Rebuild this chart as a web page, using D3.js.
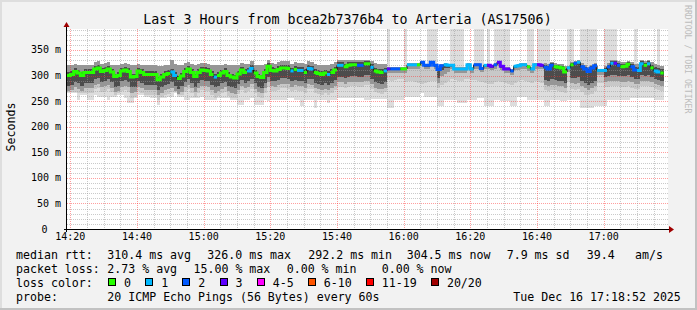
<!DOCTYPE html>
<html>
<head>
<meta charset="utf-8">
<script src="https://cdn.jsdelivr.net/npm/d3@7"></script>
<style>
  html, body { margin: 0; padding: 0; background: #f2f2f2; }
  svg { display: block; }
  text { font-family: "DejaVu Sans Mono", monospace; fill: #000; }
</style>
</head>
<body>
<div id="chart"></div>
<script>
// one sample per minute, starting 14:19 (UTC used as wall clock)
const startTime = Date.UTC(2025, 11, 16, 14, 19);

const medianRtt = [
  300,302,308,305,300,306,306,306,313,315, 308,310,313,307,298,300,309,311,308,297,
  298,309,306,302,302,302,302,292,297,302, 304,307,300,294,299,308,313,306,298,306,
  311,310,309,302,297,300,305,308,300,297, 295,303,311,306,309,314,305,298,296,306,
  318,310,309,312,315,315,314,309,312,310, 310,306,314,313,306,304,302,305,302,306,
  311,320,320,317,320,321,321,320,320,323, 323,316,309,307,306,309,313,313,313,313,
  313,313,321,321,321,321,326,320,320,326, 320,312,319,321,320,320,313,313,313,313,
  321,313,321,321,314,320,320,318,321,326, 318,313,313,309,318,319,321,321,317,313,
  321,321,320,316,313,320,317,316,315,307, 315,321,324,326,317,313,308,315,319,310,
  310,310,317,324,324,320,317,318,322,317, 311,310,323,320,323,315,309,307,305
];

// lost pings out of 20
const lossCount = [
  0,0,0,0,0,0,0,0,0,0, 0,0,0,0,0,0,0,0,0,0, 0,0,0,0,0,0,0,0,0,0,
  0,1,1,0,0,0,0,0,0,0, 0,0,0,0,1,0,0,0,0,0, 0,0,0,0,1,1,0,0,0,0,
  0,0,0,0,0,0,0,1,0,1, 1,0,1,1,0,0,0,0,1,0, 0,1,1,0,0,0,0,2,2,0,
  0,1,0,0,0,1,3,2,2,2, 0,0,1,1,1,0,2,2,2,2, 2,2,2,1,1,1,1,1,1,1,
  1,1,2,2,2,1,3,3,2,3, 3,3,3,2,1,1,1,1,0,1, 1,3,3,2,2,2,0,0,0,0,
  1,0,2,1,2,2,2,2,2,1, 1,1,2,1,3,2,0,0,0,2, 2,1,1,0,1,0,1,1,0
];

// smoke: lowest ping, lower edges of the lighter / mid bands, dark core, highest ping
const pingMin = [
  265,265,265,253,262,262,253,253,262,259, 259,259,253,259,259,262,262,256,246,246,
  256,262,262,259,259,256,256,243,256,256, 259,259,266,259,259,253,253,256,256,256,
  259,253,253,253,253,257,257,257,257,253, 253,243,243,253,253,256,243,243,243,253,
  250,253,253,253,253,253,256,256,253,253, 240,253,253,253,237,253,253,253,246,253,
  253,256,256,256,256,256,256,256,256,253, 253,255,255,255,255,255,237,237,253,253,
  253,259,259,259,259,259,266,259,259,259, 259,240,240,253,253,253,253,246,246,246,
  253,253,253,256,256,240,240,240,253,253, 250,250,250,240,240,259,259,259,253,253,
  253,253,253,240,240,253,253,253,250,250, 253,253,253,253,237,237,237,237,240,240,
  240,240,253,253,253,253,253,253,253,256, 256,256,256,256,256,256,253,253,253
];
const pingQ1 = [
  268,268,268,265,265,266,266,266,273,275, 268,270,273,267,262,265,269,271,268,257,
  259,269,266,262,262,262,262,252,259,262, 264,267,268,262,262,268,273,266,259,266,
  271,270,269,262,257,260,265,268,260,257, 256,263,271,266,269,274,265,258,256,266,
  278,270,269,272,275,275,274,269,272,270, 270,266,274,273,266,264,262,265,262,266,
  271,278,278,275,278,279,279,278,278,281, 281,274,267,265,264,267,292,290,292,294,
  294,288,290,290,288,286,284,286,288,290, 290,275,282,285,290,294,292,290,290,294,
  294,292,292,290,288,286,284,284,288,290, 288,286,284,282,286,290,292,290,288,286,
  290,288,286,272,270,272,272,270,268,266, 288,274,272,274,268,262,262,264,270,285,
  285,278,278,280,280,280,278,278,280,276, 274,274,280,280,280,278,274,272,270
];
const pingQ2 = [
  269,271,277,274,269,275,275,275,282,284, 277,279,282,276,267,269,278,280,277,266,
  267,278,275,271,271,271,271,261,266,271, 273,276,269,263,268,277,282,275,267,275,
  280,279,278,271,266,269,274,277,269,266, 264,272,280,275,278,283,274,267,265,275,
  287,279,278,281,284,284,283,278,281,279, 279,275,283,282,275,273,271,274,271,275,
  280,287,287,284,287,288,288,287,287,290, 290,283,276,274,273,276,305,305,305,305,
  305,305,313,313,313,313,318,312,312,318, 312,285,300,304,306,312,305,305,305,305,
  313,305,313,313,306,312,312,310,313,318, 310,305,305,301,310,311,313,313,309,305,
  313,313,312,282,280,282,282,280,280,276, 307,285,284,286,280,276,272,276,280,302,
  302,288,290,290,290,290,288,288,290,288, 284,284,290,290,290,288,284,282,280
];
const coreLo = [
  280,282,288,285,280,286,286,286,293,295, 288,290,293,287,278,280,289,291,288,277,
  278,289,286,282,282,282,282,272,277,282, 284,287,280,274,279,288,293,286,278,286,
  291,290,289,282,277,280,285,288,280,277, 275,283,291,286,289,294,285,278,276,286,
  298,290,289,292,295,295,294,289,292,290, 290,286,294,293,286,284,282,285,282,286,
  291,298,298,295,298,299,299,298,298,301, 301,294,287,285,284,287,310,310,310,310,
  310,310,318,318,318,318,323,317,317,323, 317,296,310,314,315,317,310,310,310,310,
  318,310,318,318,311,317,317,315,318,323, 315,310,310,306,315,316,318,318,314,310,
  318,318,317,292,290,294,292,290,290,285, 312,296,296,298,290,286,282,286,290,307,
  307,298,300,302,302,300,300,300,302,298, 294,294,302,300,302,298,294,292,290
];
const coreHi = [
  306,308,314,311,306,312,312,312,319,321, 314,316,319,313,304,306,315,317,314,303,
  304,315,312,308,308,308,308,298,303,308, 310,313,306,300,305,314,319,312,304,312,
  317,316,315,308,303,306,311,314,306,303, 301,309,317,312,315,320,311,304,302,312,
  324,316,315,318,321,321,320,315,318,316, 316,312,320,319,312,310,308,311,308,312,
  317,326,326,323,326,327,327,326,326,329, 329,322,315,313,312,315,314,314,314,314,
  314,314,322,322,322,322,327,321,321,327, 321,315,320,322,321,321,314,314,314,314,
  322,314,322,322,315,321,321,319,322,327, 319,314,314,310,319,320,322,322,318,314,
  322,322,321,320,318,324,321,320,319,313, 316,324,327,329,321,317,312,318,322,311,
  311,314,321,328,328,325,322,322,326,322, 317,316,328,325,328,321,316,314,312
];
const pingMax = [
  320,320,322,320,320,320,320,320,327,329, 322,324,327,321,320,320,323,325,322,320,
  320,323,320,320,320,320,320,318,318,320, 320,330,322,320,320,324,327,322,320,322,
  325,324,323,320,320,320,320,322,320,320, 320,320,325,322,323,328,320,320,320,322,
  330,325,323,326,329,329,328,323,326,324, 324,322,328,327,322,320,320,320,320,322,
  326,330,330,330,330,330,330,330,330,330, 330,328,325,322,322,323,316,316,316,316,
  316,316,324,324,324,324,329,323,323,329, 323,318,322,324,323,323,316,316,316,316,
  324,316,324,324,317,323,323,321,324,329, 321,316,316,312,321,322,324,324,320,316,
  324,324,323,324,322,326,324,323,322,318, 318,326,328,330,324,320,316,320,324,313,
  313,318,324,330,330,328,326,326,328,326, 322,322,330,328,330,326,322,320,318
];
// minutes where the slowest ping was above the top of the graph
const offScaleMinutes = [
  96, 101, 108, 109, 110, 115, 116, 117, 118, 122, 123, 124, 126,
  128, 129, 130, 131, 132, 138, 139, 141, 142, 143, 144, 150, 151,
  154, 155, 156, 157, 158, 161, 162, 163, 164, 170, 177
];

const yMax = 391;
const yTicks = [0, 50, 100, 150, 200, 250, 300, 350];

const lossLabels = ["0", "1", "2", "3", "4-5", "6-10", "11-19", "20/20"];
const lossColors = ["#26ff00", "#00b8ff", "#0059ff", "#5e00ff", "#ff00ff", "#ff5500", "#ff0000", "#a00000"];

const titleText = "Last 3 Hours from bcea2b7376b4 to Arteria (AS17506)";
const rttStats = ["310.4 ms avg", "326.0 ms max", "292.2 ms min", "304.5 ms now", "7.9 ms sd", "39.4", "am/s"];
const lossStats = ["2.73 % avg", "15.00 % max", "0.00 % min", "0.00 % now"];
const probeText = "20 ICMP Echo Pings (56 Bytes) every 60s";
const stampText = "Tue Dec 16 17:18:52 2025";

function lossBucket(n) {
  if (n <= 3) return n;
  if (n <= 5) return 4;
  if (n <= 10) return 5;
  if (n <= 19) return 6;
  return 7;
}

const W = 697, H = 310;
const plot = { left: 67, right: 667, top: 29, bottom: 229 };
const charW = 6.97;

const svg = d3.select("#chart").append("svg")
  .attr("width", W)
  .attr("height", H);

// background and 3d frame
svg.append("rect").attr("width", W).attr("height", H).attr("fill", "#f2f2f2");
svg.append("rect").attr("x", 0).attr("y", 0).attr("width", W).attr("height", 2).attr("fill", "#dedede");
svg.append("rect").attr("x", 0).attr("y", 0).attr("width", 2).attr("height", H).attr("fill", "#dedede");
svg.append("rect").attr("x", 0).attr("y", H - 2).attr("width", W).attr("height", 2).attr("fill", "#c2c2c2");
svg.append("rect").attr("x", W - 2).attr("y", 0).attr("width", 2).attr("height", H).attr("fill", "#c2c2c2");

const x = d3.scaleUtc()
  .domain([startTime, startTime + 180 * 60000])
  .range([plot.left, plot.right]);
const y = d3.scaleLinear()
  .domain([0, yMax])
  .range([plot.bottom, plot.top]);

const minuteT = i => startTime + i * 60000;

// canvas
svg.append("rect")
  .attr("x", plot.left)
  .attr("y", plot.top)
  .attr("width", plot.right - plot.left + 1)
  .attr("height", plot.bottom - plot.top)
  .attr("fill", "#ffffff");

// smoke layers, outer to inner
const offSet = new Set(offScaleMinutes);
const idx = d3.range(medianRtt.length);
const layers = [
  { lo: pingMin, hi: i => offSet.has(i) ? yMax : pingMax[i], color: "#dddddd" },
  { lo: pingQ1, hi: i => pingMax[i], color: "#c8c8c8" },
  { lo: pingQ2, hi: i => pingMax[i], color: "#969696" },
  { lo: coreLo, hi: i => coreHi[i], color: "#4c4c4c" }
];
const smoke = svg.append("g").attr("class", "smoke").attr("shape-rendering", "crispEdges");
layers.forEach(layer => {
  smoke.append("g")
    .selectAll("rect")
    .data(idx)
    .enter()
    .append("rect")
    .attr("x", i => Math.round(x(minuteT(i))))
    .attr("width", i => Math.round(x(minuteT(i + 1))) - Math.round(x(minuteT(i))))
    .attr("y", i => Math.round(y(layer.hi(i))))
    .attr("height", i => Math.round(y(layer.lo[i])) - Math.round(y(layer.hi(i))))
    .attr("fill", layer.color);
});

// grid (drawn over the smoke, like rrdtool)
const grid = svg.append("g").attr("class", "grid").attr("shape-rendering", "crispEdges");
const minorCol = "rgba(150,150,150,0.5)";
const majorCol = "rgba(255,40,40,0.45)";

const hMinor = d3.range(10, yMax, 10).filter(v => v % 50 !== 0);
grid.selectAll(".hminor")
  .data(hMinor)
  .enter()
  .append("line")
  .attr("class", "hminor")
  .attr("x1", plot.left).attr("x2", plot.right + 1)
  .attr("y1", d => Math.round(y(d)) + 0.5).attr("y2", d => Math.round(y(d)) + 0.5)
  .attr("stroke", minorCol).attr("stroke-dasharray", "1,1");
grid.selectAll(".hmajor")
  .data(yTicks.filter(d => d > 0))
  .enter()
  .append("line")
  .attr("class", "hmajor")
  .attr("x1", plot.left).attr("x2", plot.right + 1)
  .attr("y1", d => Math.round(y(d)) + 0.5).attr("y2", d => Math.round(y(d)) + 0.5)
  .attr("stroke", majorCol).attr("stroke-dasharray", "1,1");

const vMajorT = x.ticks(d3.utcMinute.every(20));
const vMinorT = x.ticks(d3.utcMinute.every(5)).filter(t => t.getUTCMinutes() % 20 !== 0);
grid.selectAll(".vminor")
  .data(vMinorT)
  .enter()
  .append("line")
  .attr("class", "vminor")
  .attr("y1", plot.top).attr("y2", plot.bottom)
  .attr("x1", d => Math.round(x(d)) + 0.5).attr("x2", d => Math.round(x(d)) + 0.5)
  .attr("stroke", minorCol).attr("stroke-dasharray", "1,1");
grid.selectAll(".vmajor")
  .data(vMajorT)
  .enter()
  .append("line")
  .attr("class", "vmajor")
  .attr("y1", plot.top).attr("y2", plot.bottom)
  .attr("x1", d => Math.round(x(d)) + 0.5).attr("x2", d => Math.round(x(d)) + 0.5)
  .attr("stroke", majorCol).attr("stroke-dasharray", "1,1");

// median: thin black step line, then 3px coloured steps per loss bucket
const stepPts = idx.map(i => [x(minuteT(i)), y(medianRtt[i])]);
stepPts.push([x(minuteT(medianRtt.length)), y(medianRtt[medianRtt.length - 1])]);
const stepLine = d3.line().curve(d3.curveStepAfter);

svg.append("path")
  .attr("d", stepLine(stepPts))
  .attr("fill", "none")
  .attr("stroke", "#000")
  .attr("stroke-width", 1);

// runs of equal loss colour
const runs = [];
idx.forEach(i => {
  const b = lossBucket(lossCount[i]);
  const last = runs[runs.length - 1];
  if (last && last.bucket === b && last.end === i - 1) last.end = i;
  else runs.push({ bucket: b, start: i, end: i });
});
svg.append("g")
  .selectAll("path")
  .data(runs)
  .enter()
  .append("path")
  .attr("d", r => {
    const pts = d3.range(r.start, r.end + 1).map(i => [x(minuteT(i)), y(medianRtt[i])]);
    pts.push([x(minuteT(r.end + 1)), y(medianRtt[r.end])]);
    return stepLine(pts);
  })
  .attr("fill", "none")
  .attr("stroke", r => lossColors[r.bucket])
  .attr("stroke-width", 3)
  .attr("stroke-linecap", "butt");

// axes
const axisG = svg.append("g").attr("shape-rendering", "crispEdges");
axisG.append("line")
  .attr("x1", plot.left - 3).attr("x2", plot.right + 2)
  .attr("y1", plot.bottom + 0.5).attr("y2", plot.bottom + 0.5)
  .attr("stroke", "#000");
axisG.append("line")
  .attr("x1", plot.left - 0.5).attr("x2", plot.left - 0.5)
  .attr("y1", plot.bottom + 3).attr("y2", plot.top - 3)
  .attr("stroke", "#000");
svg.append("path")
  .attr("d", `M${plot.right + 2},${plot.bottom - 3}L${plot.right + 7},${plot.bottom + 0.5}L${plot.right + 2},${plot.bottom + 4}Z`)
  .attr("fill", "#a00000");
svg.append("path")
  .attr("d", `M${plot.left - 3.5},${plot.top - 2}L${plot.left - 0.5},${plot.top - 7}L${plot.left + 2.5},${plot.top - 2}Z`)
  .attr("fill", "#a00000");

// y labels
svg.append("g")
  .selectAll("text")
  .data(yTicks)
  .enter()
  .append("text")
  .attr("x", d => d === 0 ? 47.5 : 61)
  .attr("y", d => y(d) + 3.5)
  .attr("text-anchor", "end")
  .style("font-size", "10px")
  .text(d => d === 0 ? "0" : `${d} m`);

// x labels
svg.append("g")
  .selectAll("text")
  .data(vMajorT)
  .enter()
  .append("text")
  .attr("x", d => x(d))
  .attr("y", 240)
  .attr("text-anchor", "middle")
  .style("font-size", "10px")
  .text(d3.utcFormat("%H:%M"));

// title, axis title, watermark
svg.append("text")
  .attr("x", 347.5).attr("y", 24)
  .attr("text-anchor", "middle")
  .style("font-size", "13.3px")
  .text(titleText);

svg.append("text")
  .attr("transform", "translate(14.5,127) rotate(-90)")
  .attr("text-anchor", "middle")
  .style("font-size", "11.6px")
  .text("Seconds");

svg.append("text")
  .attr("transform", "translate(685,5) rotate(90)")
  .style("font-size", "8.2px")
  .style("fill", "#bcbcbc")
  .text("RRDTOOL / TOBI OETIKER");

// legend block
const legend = svg.append("g").style("font-size", "11.6px");
const rowY = [258.5, 272.5, 286.5, 300.5];

legend.append("text").attr("x", 16).attr("y", rowY[0]).text("median rtt:");
const rttCols = [107.3, 207.3, 308.3, 406.7, 506.7, 586.7, 635];
rttStats.forEach((s, k) => legend.append("text").attr("x", rttCols[k]).attr("y", rowY[0]).text(s));

legend.append("text").attr("x", 16).attr("y", rowY[1]).text("packet loss:");
const lossCols = [107.3, 193.5, 286.7, 381.7];
lossStats.forEach((s, k) => legend.append("text").attr("x", lossCols[k]).attr("y", rowY[1]).text(s));

legend.append("text").attr("x", 16).attr("y", rowY[2]).text("loss color:");
let bx = 108.5;
lossLabels.forEach((lab, k) => {
  legend.append("rect")
    .attr("x", bx).attr("y", 278.5)
    .attr("width", 7).attr("height", 7)
    .attr("fill", lossColors[k])
    .attr("stroke", "#000")
    .attr("shape-rendering", "crispEdges");
  legend.append("text").attr("x", bx + 15.5).attr("y", rowY[2]).text(lab);
  bx += 15.5 + lab.length * charW + 14.7;
});

legend.append("text").attr("x", 16).attr("y", rowY[3]).text("probe:");
legend.append("text").attr("x", 107.3).attr("y", rowY[3]).text(probeText);
legend.append("text").attr("x", 513.3).attr("y", rowY[3]).text(stampText);
</script>
</body>
</html>
